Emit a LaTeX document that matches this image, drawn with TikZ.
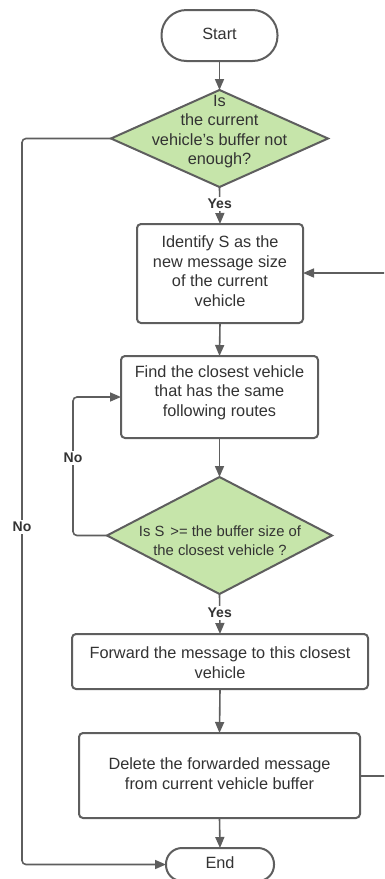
\documentclass[tikz,border=0pt]{standalone}
\usepackage{fontspec}
\setmainfont{Liberation Sans}
\usetikzlibrary{arrows.meta,shapes.geometric}
\definecolor{linegray}{HTML}{5E5E5E}
\definecolor{txtgray}{HTML}{333333}
\definecolor{decgreen}{HTML}{C6E5AA}
\begin{document}
\begin{tikzpicture}[x=1pt,y=-1pt,
  every node/.style={inner sep=0pt,outer sep=0pt,text=txtgray},
  txt/.style={font=\fontsize{16.3}{19.5}\selectfont,align=center},
  smalltxt/.style={font=\fontsize{14.8}{19}\selectfont,align=center},
  procbox/.style={draw=linegray,line width=2pt,rounded corners=4pt,fill=white},
  termbox/.style={draw=linegray,line width=2pt,rounded corners=16pt,fill=white},
  decbox/.style={diamond,draw=linegray,line width=2pt,fill=decgreen,aspect=2},
  flow/.style={draw=linegray,line width=1.6pt,-{Triangle[length=11pt,width=9pt]}},
  lbl/.style={font=\bfseries\fontsize{14}{15}\selectfont,fill=white,inner sep=2pt}]
\useasboundingbox (0,0) rectangle (384,879);
\clip (0,0) rectangle (384,879);

% terminals
\node[termbox,minimum width=116pt,minimum height=51pt,rounded corners=25pt] (start) at (219.5,35.5) {};
\node[txt] (startt) at (219.5,34) {Start};
\node[termbox,minimum width=108pt,minimum height=33pt] (end) at (220,864.5) {};
\node[txt] (endt) at (220,863) {End};

% decisions
\node[decbox,minimum width=217pt,minimum height=97pt] (d1) at (219.5,138.5) {};
\node[txt] (d1t) at (219.5,131.5) {Is\\the current\\vehicle's buffer not\\enough?};
\node[decbox,minimum width=225pt,minimum height=117pt] (d2) at (219.5,535.5) {};
\node[smalltxt] (d2t) at (220,540.5) {Is S\hspace{6pt}>= the buffer size of\\the closest vehicle ?};

% processes
\node[procbox,minimum width=166pt,minimum height=99pt] (b1) at (220,273.5) {};
\node[txt] (b1t) at (220,271) {Identify S as the\\new message size\\of the current\\vehicle};
\node[procbox,minimum width=197pt,minimum height=82pt] (b2) at (219.5,397) {};
\node[txt] (b2t) at (219.5,392.5) {Find the closest vehicle\\that has the same\\following routes};
\node[procbox,minimum width=296pt,minimum height=55pt] (b3) at (220,661.5) {};
\node[txt] (b3t) at (220,662.5) {Forward the message to this closest\\vehicle};
\node[procbox,minimum width=281pt,minimum height=85pt] (b4) at (219.5,775.5) {};
\node[txt] (b4t) at (219.5,773.5) {Delete the forwarded message\\from current vehicle buffer};

% helper points for the routed connectors
\coordinate (nofar) at (22,138.5);
\coordinate (noloop) at (73,535.5);
\coordinate (backtop) at (387,273);
\coordinate (backbot) at (387,776);

% connectors
\draw[flow] (start.south) -- (d1.north);
\draw[flow] (d1.south) -- node[lbl,pos=0.45] (yes1) {Yes} (b1.north);
\draw[flow] (b1.south) -- (b2.north);
\draw[flow] (b2.south) -- (d2.north);
\draw[flow] (d2.south) -- node[lbl,pos=0.47] (yes2) {Yes} (b3.north);
\draw[flow] (b3.south) -- (b4.north);
\draw[flow] (b4.south) -- (end.north);

\draw[flow,rounded corners=4pt] (d2.west) -- (noloop) -- (noloop |- b2.west) -- (b2.west);
\node[lbl] (no2) at (73,458) {No};

\draw[flow,rounded corners=4pt] (d1.west) -- (nofar) -- (nofar |- end.west) -- (end.west);
\node[lbl] (no1) at (22,527) {No};

\draw[flow] (b4.east |- backbot) -- (backbot) -- (backtop) -- (b1.east |- backtop);
\end{tikzpicture}
\end{document}
